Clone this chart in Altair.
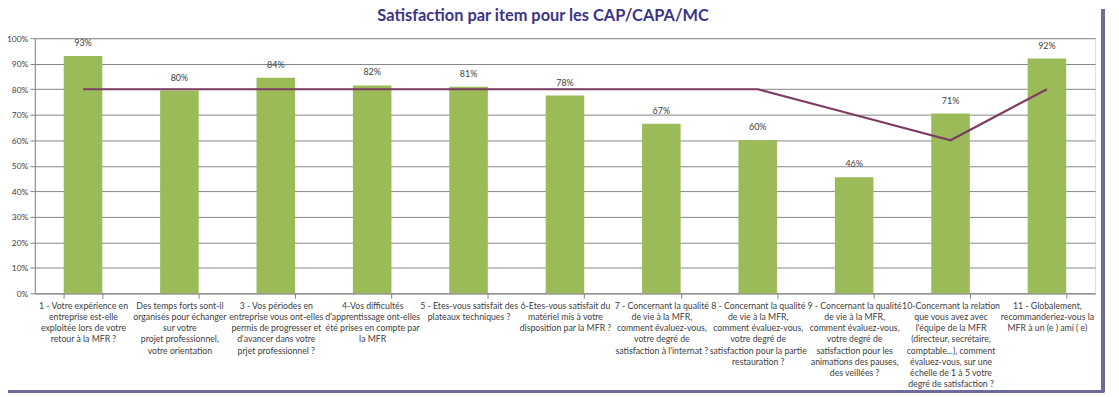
import altair as alt
import pandas as pd

items = [
    "1 - Votre expérience en|entreprise est-elle|exploitée lors de votre|retour à la MFR ?",
    "Des temps forts sont-il|organisés pour échanger|sur votre|projet professionnel,|votre orientation",
    "3 - Vos périodes en|entreprise vous ont-elles|permis de progresser et|d'avancer dans votre|prjet professionnel ?",
    "4-Vos difficultés|d'apprentissage ont-elles|été prises en compte par|la MFR",
    "5 - Etes-vous satisfait des|plateaux techniques ?",
    "6-Etes-vous satisfait du|matériel mis à votre|disposition par la MFR ?",
    "7 - Concernant la qualité|de vie à la MFR,|comment évaluez-vous,|votre degré de|satisfaction à l'internat ?",
    "8 - Concernant la qualité|de vie à la MFR,|comment évaluez-vous,|votre degré de|satisfaction pour la partie|restauration ?",
    "9 - Concernant la qualité|de vie à la MFR,|comment évaluez-vous,|votre degré de|satisfaction pour les|animations des pauses,|des veillées ?",
    "10-Concernant la relation|que vous avez avec|l'équipe de la MFR|(directeur, secrétaire,|comptable...), comment|évaluez-vous, sur une|échelle de 1 à 5 votre|degré de satisfaction ?",
    "11 - Globalement,|recommanderiez-vous la|MFR à un (e ) ami ( e)",
]
satisfaction = [0.93, 0.795, 0.845, 0.815, 0.81, 0.775, 0.665, 0.60, 0.455, 0.705, 0.92]
satisfaction_labels = ["93%", "80%", "84%", "82%", "81%", "78%", "67%", "60%", "46%", "71%", "92%"]
objectif = [0.80, 0.80, 0.80, 0.80, 0.80, 0.80, 0.80, 0.80, 0.70, 0.60, 0.80]
y_ticks = [0.0, 0.1, 0.2, 0.3, 0.4, 0.5, 0.6, 0.7, 0.8, 0.9, 1.0]

df = pd.DataFrame({
    "item": items,
    "satisfaction": satisfaction,
    "label": satisfaction_labels,
    "objectif": objectif,
})

FONT = "Lato"
W, H = 1068, 257

x_axis = alt.Axis(
    labelAngle=0,
    labelLimit=0,
    labelExpr="split(datum.label, '|')",
    labelBaseline="top",
    labelLineHeight=11.3,
    labelFontSize=8.8,
    labelFont=FONT,
    labelColor="#404040",
    labelPadding=3,
    labelOverlap=False,
    tickBand="extent",
    tickSize=5,
    tickColor="#868686",
    domainColor="#868686",
    grid=False,
    title=None,
)
x_scale = alt.Scale(paddingInner=0.6, paddingOuter=0.3)

y_axis = alt.Axis(
    values=y_ticks,
    format=".0%",
    grid=True,
    gridColor="#868686",
    gridWidth=1,
    tickSize=5,
    tickColor="#868686",
    domainColor="#868686",
    labelFontSize=8.5,
    labelFont=FONT,
    labelColor="#404040",
    labelPadding=2,
    labelOverlap=False,
    title=None,
)
y_scale = alt.Scale(domain=[0, 1], nice=False)

base = alt.Chart(df)

bars = base.mark_bar(color="#9bbb59").encode(
    x=alt.X("item:N", sort=items, scale=x_scale, axis=x_axis),
    y=alt.Y("satisfaction:Q", scale=y_scale, axis=y_axis),
)

text = base.mark_text(
    dy=-8, baseline="bottom", fontSize=9, font=FONT, color="#404040"
).encode(
    x=alt.X("item:N", sort=items, scale=x_scale, axis=x_axis),
    y=alt.Y("satisfaction:Q", scale=y_scale, axis=y_axis),
    text="label:N",
)

line = base.mark_line(color="#7d3c61", strokeWidth=2.2).encode(
    x=alt.X("item:N", sort=items, scale=x_scale, axis=x_axis),
    y=alt.Y("objectif:Q", scale=y_scale, axis=y_axis),
)

frame_color = "#6f6a9c"
frame_right = alt.Chart(df).mark_rule(color=frame_color, strokeWidth=3).encode(
    x=alt.value(W + 8), y=alt.value(-29), y2=alt.value(H + 99)
)
frame_bottom = alt.Chart(df).mark_rule(color=frame_color, strokeWidth=3).encode(
    x=alt.value(-27), x2=alt.value(W + 9), y=alt.value(H + 99)
)

chart = alt.layer(bars, text, line, frame_right, frame_bottom).properties(
    width=W,
    height=H,
    padding={"left": 27, "top": 29, "right": 16, "bottom": 103},
    autosize=alt.AutoSizeParams(type="none"),
    title=alt.TitleParams(
        "Satisfaction par item pour les CAP/CAPA/MC",
        font="Lato",
        fontSize=16.5,
        fontWeight="bold",
        color="#3b3587",
        anchor="middle",
        frame="group",
        offset=0,
        dy=17,
        dx=-22,
    ),
).configure_view(stroke=None).configure(background="white")

chart.save("out.html", embed_options={"renderer": "svg", "actions": False})
